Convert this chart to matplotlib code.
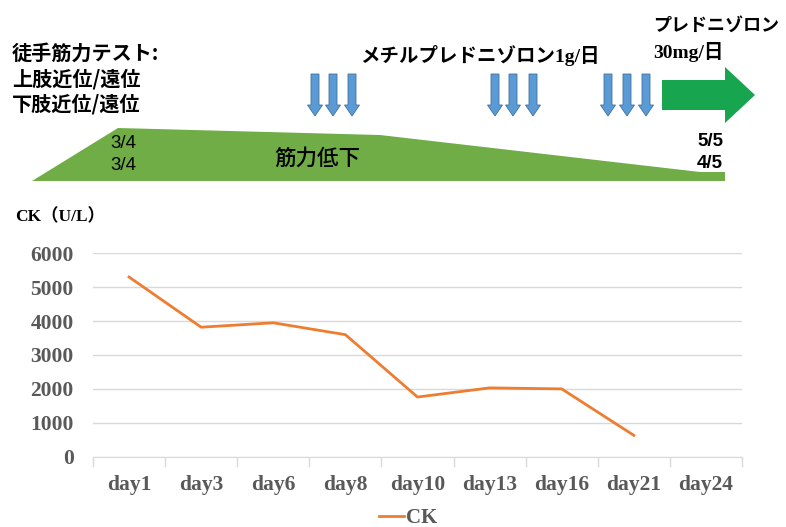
import matplotlib.pyplot as plt
import matplotlib.patches as mpatches

# CK推移
days = ["day1", "day3", "day6", "day8", "day10", "day13", "day16", "day21", "day24"]
ck = [5300, 3820, 3950, 3600, 1760, 2030, 2000, 630, None]
yticks = [0, 1000, 2000, 3000, 4000, 5000, 6000]

# 徒手筋力テスト (開始時 / 終了時)
mmt_start = ["3/4", "3/4"]
mmt_end = ["5/5", "4/5"]

W, H = 786, 527
fig = plt.figure(figsize=(W / 100, H / 100), dpi=100)

serif = ["Liberation Serif", "Noto Sans CJK JP"]
jp = ["Noto Sans CJK JP", "DejaVu Sans"]
grey = "#595959"

# ---- グラフ部分 ----
ax = fig.add_axes([93 / W, (H - 456.7) / H, (742 - 93) / W, (456.7 - 253.3) / H])
xs = list(range(len(days)))
pts = [(x, v) for x, v in zip(xs, ck) if v is not None]
ax.plot([p[0] for p in pts], [p[1] for p in pts], color="#ED7D31", lw=2, label="CK")
ax.set_xlim(-0.5, len(days) - 0.5)
ax.set_ylim(0, 6000)
ax.set_yticks(yticks)
ax.set_xticks(xs)
ax.set_xticklabels(days)
ax.set_xticks([x - 0.5 for x in range(len(days) + 1)], minor=True)
ax.tick_params(axis="x", which="major", length=0, pad=13)
ax.tick_params(axis="x", which="minor", length=7, color="#d9d9d9", width=1)
ax.tick_params(axis="y", length=0, pad=14)
for lab in ax.get_xticklabels() + ax.get_yticklabels():
    lab.set_fontfamily(serif)
    lab.set_fontweight("bold")
    lab.set_fontsize(15.5)
    lab.set_color(grey)
ax.grid(axis="y", color="#d9d9d9", lw=1)
for s in ["top", "right", "left"]:
    ax.spines[s].set_visible(False)
ax.spines["bottom"].set_color("#d9d9d9")
ax.set_axisbelow(True)

leg = fig.legend(loc="center", bbox_to_anchor=(408 / W, (H - 518) / H), frameon=False,
                 handlelength=1.2, handletextpad=0.1,
                 prop={"family": serif, "weight": "bold", "size": 15})
for t in leg.get_texts():
    t.set_color(grey)

fig.text(15 / W, (H - 217) / H, "CK（U/L）", family=serif, weight="bold", fontsize=12.5,
         va="center", ha="left")

# ---- 上部の経過図 ----
top = fig.add_axes([0, 0, 1, 1], zorder=-1)
top.set_xlim(0, W)
top.set_ylim(H, 0)
top.axis("off")

# 筋力低下の帯
band = mpatches.Polygon([(32, 181), (118, 128), (380, 135), (700, 172), (725, 172), (725, 181)],
                        closed=True, facecolor="#70AD47", edgecolor="none")
top.add_patch(band)

# メチルプレドニゾロン パルス
for group in [(315, 333, 352), (495, 513, 533), (608, 627, 646)]:
    for x in group:
        top.add_patch(mpatches.FancyArrow(x, 74, 0, 42, width=8, head_width=15, head_length=11,
                                          length_includes_head=True, facecolor="#5B9BD5",
                                          edgecolor="#41719C", lw=0.6))

# プレドニゾロン 維持
top.add_patch(mpatches.FancyArrow(662, 95, 93, 0, width=30, head_width=56, head_length=30,
                                  length_includes_head=True, facecolor="#17A550", edgecolor="none"))

top.text(12, 53, "徒手筋力テスト:", family=jp, weight="bold", fontsize=14.5, va="center")
top.text(12, 79, "上肢近位/遠位", family=jp, weight="bold", fontsize=14.5, va="center")
top.text(12, 104, "下肢近位/遠位", family=jp, weight="bold", fontsize=14.5, va="center")

top.text(110, 143, mmt_start[0], family=["Liberation Sans"], fontsize=13.5, va="center")
top.text(110, 166, mmt_start[1], family=["Liberation Sans"], fontsize=13.5, va="center")
top.text(697, 141, mmt_end[0], family=["Liberation Sans"], weight="bold", fontsize=13.5, va="center")
top.text(697, 164, mmt_end[1], family=["Liberation Sans"], weight="bold", fontsize=13.5, va="center")

top.text(317, 159, "筋力低下", family=jp, weight="medium", fontsize=15.5, ha="center", va="center")
top.text(600, 55, "メチルプレドニゾロン1g/日", family=serif, weight="bold", fontsize=14,
         ha="right", va="center")
top.text(653, 25, "プレドニゾロン", family=jp, weight="bold", fontsize=13, ha="left", va="center")
top.text(653, 52, "30mg/日", family=serif, weight="bold", fontsize=14, ha="left", va="center")

fig.savefig("out.png", dpi=100)
